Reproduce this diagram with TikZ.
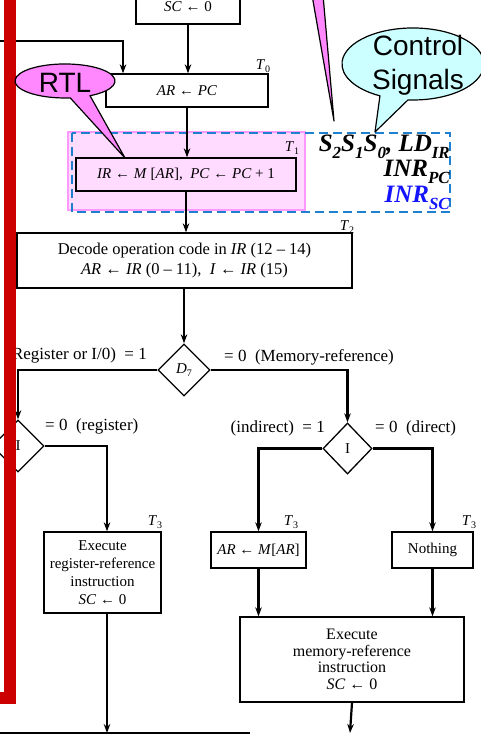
\documentclass[tikz,border=0pt]{standalone}
\usepackage{fontspec}
\setmainfont{Liberation Serif}
\newfontfamily\calloutfont{Liberation Sans}
\usetikzlibrary{shapes.geometric,arrows.meta}
\definecolor{barred}{HTML}{CC0000}
\definecolor{rtlfill}{HTML}{FF88FF}
\definecolor{phasefill}{HTML}{FFDCFF}
\definecolor{phaseedge}{HTML}{FF99FF}
\definecolor{cyanfill}{HTML}{CCFFFF}
\definecolor{sigblue}{HTML}{2080D0}
\definecolor{sigtext}{HTML}{1414FF}
% small lowered index for T_n and D_7
\newcommand\lowsub[1]{\raisebox{-0.22em}{\fontsize{10}{10}\selectfont #1}}
\newcommand\tlab[1]{\textit{T}\lowsub{#1}}
% index for the large control-signal names
\newcommand\csub[1]{\raisebox{-0.28em}{\fontsize{17}{17}\selectfont #1}}
\begin{document}
\begin{tikzpicture}[x=1pt,y=-1pt,
  box/.style={draw, line width=1.3pt, inner sep=0pt, align=center, font=\fontsize{15}{18}\selectfont},
  cond/.style={diamond, draw, line width=1.3pt, inner sep=0pt, minimum width=52pt, minimum height=52pt, font=\fontsize{15}{15}\selectfont},
  flow/.style={line width=2.2pt, -{Stealth[length=9pt,width=6.5pt]}},
  wire/.style={line width=1.5pt},
  note/.style={font=\fontsize{17}{17}\selectfont, inner sep=0pt},
  tmark/.style={font=\fontsize{15}{15}\selectfont, inner sep=0pt},
  ctrl/.style={font=\fontsize{25}{25}\selectfont\bfseries\itshape, inner sep=0pt},
  bubble/.style={draw=black, line width=1.2pt, line join=round},
  bubbletext/.style={font=\calloutfont\fontsize{28}{34}\selectfont, align=center, inner sep=0pt},
  ]
\useasboundingbox (0,0) rectangle (481,735);
\clip (0,0) rectangle (481,735);
\fill[white] (0,0) rectangle (481,735);

% fetch phase highlight and control-signal frame
\filldraw[fill=phasefill, draw=phaseedge, line width=1.2pt] (68,132) rectangle (305,210);
\draw[sigblue, dash pattern=on 9pt off 5pt, line width=1.6pt] (72,133) rectangle (450,212);

% flowchart boxes
\node[box, minimum width=104pt, minimum height=34pt] (sc) at (188,7) {\textit{SC} ← 0};
\node[box, minimum width=162pt, minimum height=33pt] (ar) at (187,90.5) {\textit{AR} ← \textit{PC}};
\node[box, minimum width=220pt, minimum height=33pt] (ir) at (186,174.5)
  {\textit{IR} ← \textit{M} [\textit{AR}],\ \ \textit{PC} ← \textit{PC} + 1};
\node[box, minimum width=335pt, minimum height=55pt, font=\fontsize{16.5}{19.5}\selectfont] (dec) at (184.5,260.5)
  {Decode operation code in \textit{IR} (12 – 14)\\ \textit{AR} ← \textit{IR} (0 – 11),\ \ \textit{I} ← \textit{IR} (15)};
\node[cond] (d7) at (184,370) {\textit{D}\lowsub{7}};
\node[cond] (il) at (18,446) {I};
\node[cond, minimum width=49pt, minimum height=51pt] (ii) at (347.5,448.5) {I};
\node[box, minimum width=117pt, minimum height=81pt] (reg) at (102.5,572.5)
  {Execute\\register-reference\\instruction\\\textit{SC} ← 0};
\node[box, minimum width=95pt, minimum height=36pt] (arm) at (258.5,550) {\textit{AR} ←\ \textit{M}[\textit{AR}]};
\node[box, minimum width=81pt, minimum height=36pt] (noth) at (432.5,550) {Nothing};
\node[box, minimum width=224pt, minimum height=85pt, font=\fontsize{16}{16.5}\selectfont] (mem) at (352,659.5)
  {Execute\\memory-reference\\instruction\\\textit{SC} ← 0};

% timing marks
\node[tmark] (t0) at (263,66) {\tlab{0}};
\node[tmark] (t1) at (292,148) {\tlab{1}};
\node[tmark] (t2) at (347,227) {\tlab{2}};
\node[tmark] (t3a) at (155,522) {\tlab{3}};
\node[tmark] (t3b) at (291,522) {\tlab{3}};
\node[tmark] (t3c) at (469,522) {\tlab{3}};

% free ends
\coordinate (loopin) at (-5,41);
\coordinate (arin) at ([xshift=-64pt]ar.north);
\coordinate (joinL) at (107,733);
\coordinate (joinR) at (350,733);
\coordinate (busL) at (-5,733);
\coordinate (busR) at (250,733);

% connectors
\draw[flow] (sc.south) -- (sc.south |- ar.north);
\draw[flow] (loopin) -| (arin);
\draw[flow] (ar.south) -- (ar.south |- ir.north);
\draw[flow] (ir.south) -- (ir.south |- dec.north);
\draw[flow] (d7 |- dec.south) -- (d7.north);
\draw[flow] (d7.west) -| (il.north);
\draw[flow] (d7.east) -| (ii.north);
\draw[flow] (il.east) -| ([xshift=4.5pt]reg.north);
\draw[flow] (ii.west) -| (arm.north);
\draw[flow] (ii.east) -| (noth.north);
\draw[flow] (arm.south) -- (arm.south |- mem.north);
\draw[flow] (noth.south) -- (noth.south |- mem.north);
\draw[flow] ([xshift=4.5pt]reg.south) -- (joinL);
\draw[flow] (mem.south) -- (joinR);
\draw[wire] (busL) -- (busR);

% branch labels
\node[note, anchor=east] (lab1) at (147,355) {(Register or I/0)\ \ = 1};
\node[note, anchor=west] (lab2) at (224,357) {= 0\ \ (Memory-reference)};
\node[note, anchor=west] (lab3) at (45,426) {= 0\ \ (register)};
\node[note, anchor=east] (lab4) at (325,428) {(indirect)\ \ = 1};
\node[note, anchor=west] (lab5) at (375,428) {= 0\ \ (direct)};

% red frame edge
\draw[barred, line width=12pt] (-40,-40) rectangle (10,698);

% control signal names
\node[ctrl, anchor=base east] (sig1) at (450,152) {S\csub{2}S\csub{1}S\csub{0}, LD\csub{IR}};
\node[ctrl, anchor=base east] (sig2) at (450,177) {INR\csub{PC}};
\node[ctrl, anchor=base east, text=sigtext] (sig3) at (450,203) {INR\csub{SC}};

% callouts
\filldraw[bubble, fill=rtlfill] (312,-5) -- (323,-5) -- (334,121) -- cycle;
\filldraw[bubble, fill=rtlfill] (125,158) -- (90,95.7)
  arc[start angle=60, end angle=-276, x radius=50, y radius=17] -- cycle;
\node[bubbletext] (rtl) at (65,83) {RTL};
\filldraw[bubble, fill=cyanfill] (375,132) -- (408,99.9)
  arc[start angle=94, end angle=-242.3, x radius=71, y radius=36] -- cycle;
\node[bubbletext] (cs) at (418,65) {Control\\Signals};
\end{tikzpicture}
\end{document}
